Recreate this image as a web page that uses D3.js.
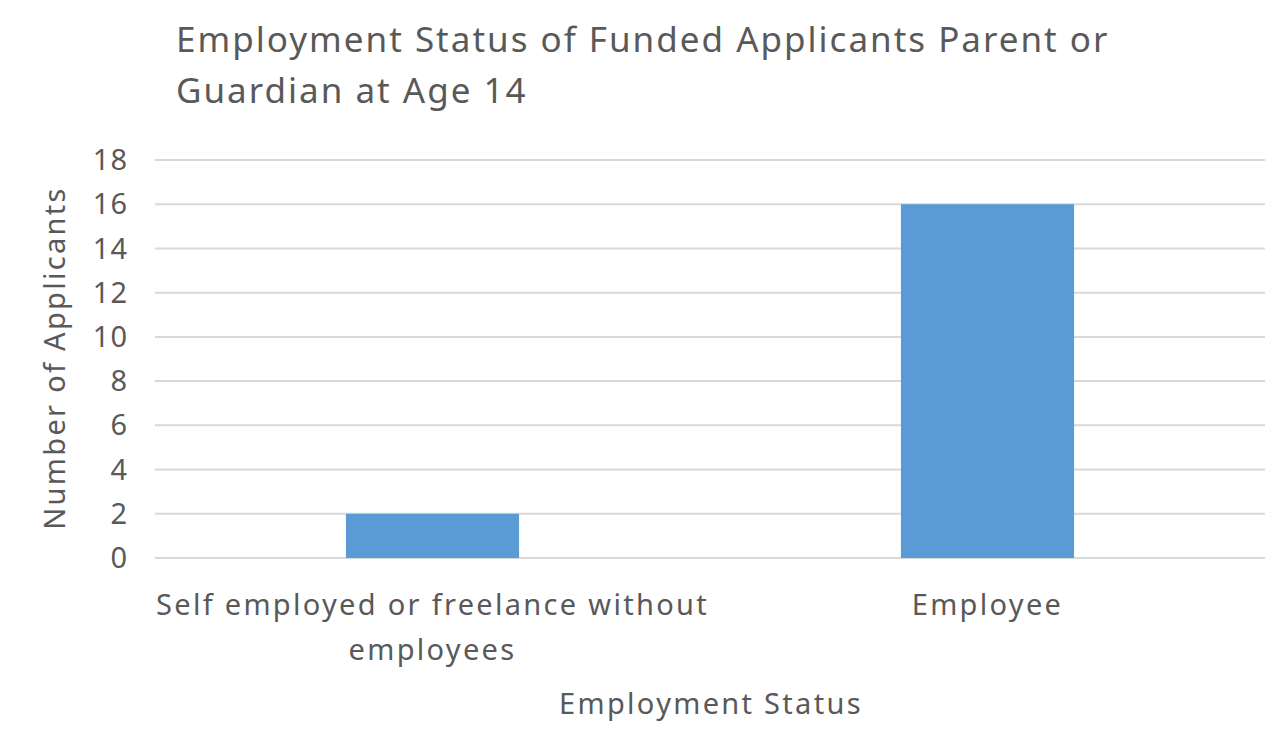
<!DOCTYPE html>
<html>
<head>
<meta charset="utf-8">
<script src="https://cdn.jsdelivr.net/npm/d3@7"></script>
<style>
  body { margin: 0; background: #fff; }
  text { font-family: "Noto Sans", sans-serif; fill: #595959; }
</style>
</head>
<body>
<svg id="chart" width="1288" height="744"></svg>
<script>
var categories = [["Self employed or freelance without", "employees"], ["Employee"]];
var values = [2, 16];
var yTicks = [0, 2, 4, 6, 8, 10, 12, 14, 16, 18];

var svg = d3.select('#chart');
var plotLeft = 155, plotRight = 1265, plotTop = 160, plotBottom = 558;

var x = d3.scaleBand().domain(d3.range(values.length)).range([plotLeft, plotRight])
  .paddingInner(0.688).paddingOuter(0.344);
var y = d3.scaleLinear().domain([0, 18]).range([plotBottom, plotTop]);

// gridlines
svg.selectAll('line.grid').data(yTicks).enter().append('line')
  .attr('x1', plotLeft).attr('x2', plotRight)
  .attr('y1', function(d) { return y(d); }).attr('y2', function(d) { return y(d); })
  .attr('stroke', '#d9d9d9').attr('stroke-width', 2);

svg.selectAll('text.ytick').data(yTicks).enter().append('text')
  .attr('x', 128).attr('y', function(d) { return y(d); })
  .attr('dy', '0.35em').attr('text-anchor', 'end')
  .style('font-size', '29px').style('letter-spacing', '1px').text(function(d) { return d; });

svg.selectAll('rect.bar').data(values).enter().append('rect')
  .attr('x', function(d, i) { return x(i); }).attr('width', x.bandwidth())
  .attr('y', function(d) { return y(d); })
  .attr('height', function(d) { return y(0) - y(d); })
  .attr('fill', '#5B9BD5');

categories.forEach(function(lines, i) {
  lines.forEach(function(t, j) {
    svg.append('text')
      .attr('x', x(i) + x.bandwidth() / 2).attr('y', 615 + j * 45)
      .attr('text-anchor', 'middle').style('font-size', '29px')
      .style('letter-spacing', '2.3px').text(t);
  });
});

svg.append('text').attr('x', 711).attr('y', 714).attr('text-anchor', 'middle')
  .style('font-size', '29px').style('letter-spacing', '2.3px').text('Employment Status');

svg.append('text').attr('transform', 'translate(65,358) rotate(-90)')
  .attr('text-anchor', 'middle').style('font-size', '29px')
  .style('letter-spacing', '2.3px').text('Number of Applicants');

svg.append('text').attr('x', 176).attr('y', 52).style('font-size', '35px')
  .style('letter-spacing', '2px').text('Employment Status of Funded Applicants Parent or');
svg.append('text').attr('x', 176).attr('y', 103).style('font-size', '35px')
  .style('letter-spacing', '2px').text('Guardian at Age 14');
</script>
</body>
</html>
